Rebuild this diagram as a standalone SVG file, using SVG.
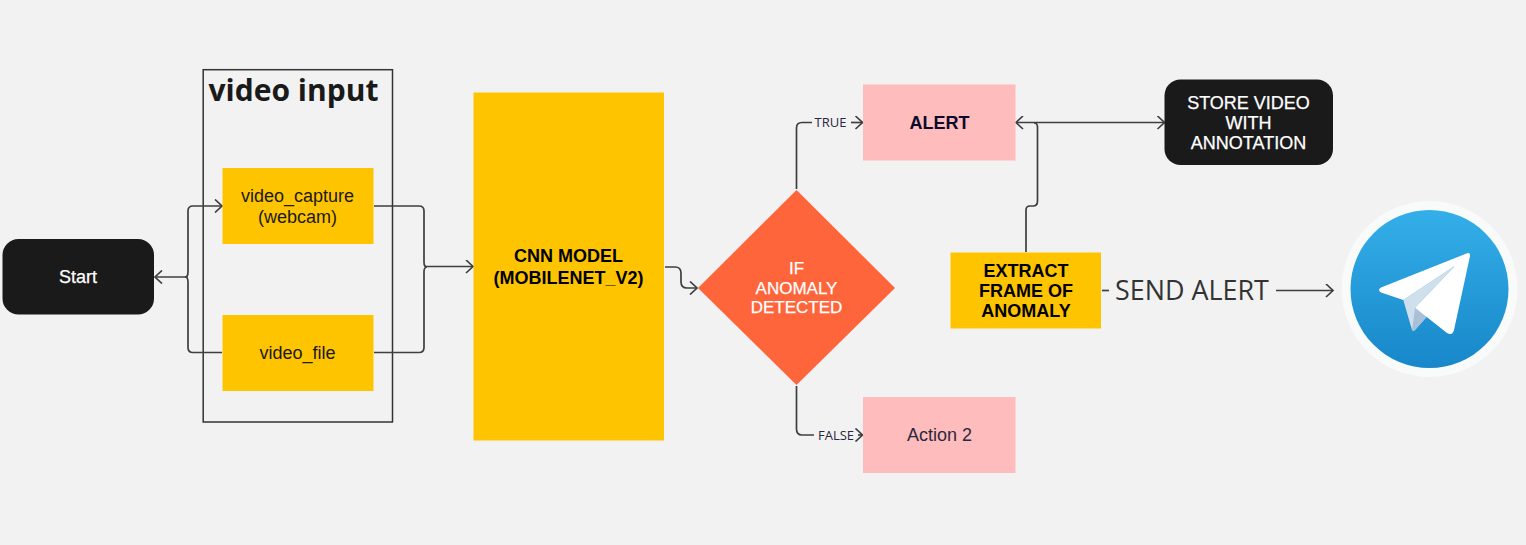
<svg xmlns="http://www.w3.org/2000/svg" width="1526" height="545" viewBox="0 0 1526 545">
<defs>
<style>
text{font-family:"Liberation Sans",Arial,sans-serif;text-anchor:middle}
.t{font-size:18px;fill:#1a1a1a}
.w{font-size:18px;fill:#fff;stroke:#fff;stroke-width:.25}
.d{font-size:17px}
.b{font-size:18px;font-weight:bold;fill:#000}
.o{font-family:"Open Sans",sans-serif}
.y{fill:#ffc400}
.p{fill:#ffbcbc}
.k{fill:#1a1a1a}
.c{fill:none;stroke:#3f3f3f;stroke-width:1.7}
.s{font-family:"Open Sans",sans-serif;font-size:13px;fill:#2b2740}
</style>
<marker id="a" markerUnits="userSpaceOnUse" markerWidth="12" markerHeight="14" refX="9" refY="7" orient="auto-start-reverse"><path d="M2 .5L9 7L2 13.500" fill="none" stroke="#3f3f3f" stroke-width="1.700"/></marker>
<linearGradient id="tg" x1="0" y1="0" x2="0" y2="1"><stop offset="0" stop-color="#34afe9"/><stop offset="1" stop-color="#1787c9"/></linearGradient>
</defs>
<rect width="1526" height="545" fill="#f2f2f2"/>
<g id="video-input">
<rect x="203.200" y="69.700" width="189.300" height="352.300" fill="none" stroke="#333" stroke-width="1.500"/>
<text class="o" x="293.500" y="101" font-size="30" font-weight="bold" fill="#1a1a1a">video input</text>
</g>
<g id="connectors">
<path class="c" d="M188 277H155" marker-end="url(#a)"/>
<path class="c" d="M222 352.500H193Q188 352.500 188 347.500V282Q188 277 185 277Q188 277 188 272V211Q188 206 193 206H222" marker-end="url(#a)"/>
<path class="c" d="M374 206H419Q424 206 424 211V262Q424 267 427 267Q424 267 424 272V347.500Q424 352.500 419 352.500H374"/>
<path class="c" d="M425 266.500H473" marker-end="url(#a)"/>
<path class="c" d="M665 267H675Q681 267 681 273V282Q681 288 687 288H697" marker-end="url(#a)"/>
<path class="c" d="M796.500 189V128Q796.500 122.500 802 122.500H812"/>
<path class="c" d="M851 122.500H862.500" marker-end="url(#a)"/>
<path class="c" d="M796.500 386V429Q796.500 435 802 435H814"/>
<path class="c" d="M858 435H862.500" marker-end="url(#a)"/>
<path class="c" d="M1164.500 122.500H1016" marker-start="url(#a)" marker-end="url(#a)"/>
<path class="c" d="M1026 252V210Q1026 206 1030 206H1033Q1037.500 206 1037.500 201V127Q1037.500 123 1034 123"/>
<path class="c" d="M1102 290.500H1109"/>
<path class="c" d="M1276 290.500H1333" marker-end="url(#a)"/>
</g>
<g id="start"><rect class="k" x="2.500" y="239" width="151.500" height="75.500" rx="16"/><text class="w" x="78" y="282.500">Start</text></g>
<g id="video-capture"><rect class="y" x="222.500" y="168" width="151" height="76"/><text class="t" x="297.500" y="202">video_capture</text><text class="t" x="297.500" y="223">(webcam)</text></g>
<g id="video-file"><rect class="y" x="222.500" y="315" width="151" height="76"/><text class="t" x="297.500" y="358.500">video_file</text></g>
<g id="cnn-model"><rect class="y" x="473.500" y="92.500" width="190.500" height="348"/><text class="b" x="568.500" y="262">CNN MODEL</text><text class="b" x="568.500" y="283.500">(MOBILENET_V2)</text></g>
<g id="decision"><polygon points="796.500,190 895,288 796.500,385 698,288" fill="#ff653b"/><text class="w d" x="796.500" y="274">IF</text><text class="w d" x="796.500" y="294">ANOMALY</text><text class="w d" x="796.500" y="313">DETECTED</text></g>
<text class="s" x="830.500" y="127">TRUE</text>
<text class="s" x="836" y="439.500">FALSE</text>
<g id="alert"><rect class="p" x="863" y="84.500" width="152.500" height="76"/><text x="939.500" y="128.500" font-size="18" font-weight="bold" fill="#0d0a2c">ALERT</text></g>
<g id="action-2"><rect class="p" x="863" y="397" width="152.500" height="76"/><text x="939.500" y="440.500" font-size="18" fill="#2b2740">Action 2</text></g>
<g id="store-video"><rect class="k" x="1164.500" y="79.500" width="168.500" height="85.500" rx="16"/><text class="w" x="1248.500" y="109">STORE VIDEO</text><text class="w" x="1248.500" y="129">WITH</text><text class="w" x="1248.500" y="149">ANNOTATION</text></g>
<g id="extract-frame"><rect class="y" x="950.500" y="252.500" width="150.500" height="76"/><text class="b" x="1026" y="276.500">EXTRACT</text><text class="b" x="1026" y="296.500">FRAME OF</text><text class="b" x="1026" y="316.500">ANOMALY</text></g>
<text class="o" x="1192" y="300" font-size="26.900" fill="#333">SEND ALERT</text>
<g id="telegram">
<circle cx="1429.500" cy="289" r="88" fill="#f9fafa"/>
<circle cx="1429.500" cy="289" r="79" fill="url(#tg)"/>
<path d="M1403.300 300L1412 330Q1413 331.500 1415 330L1426.700 316.700L1415 307.700L1455 265.700Z" fill="#d0dfec"/>
<path d="M1415 307.700L1412 330Q1413 331.500 1415 330L1426.700 316.700Z" fill="#a9c0d8"/>
<path d="M1466.500 253.500Q1470.500 252 1470 256L1454 330Q1452.500 336 1447 333L1415 307.700L1455 265.700L1403.300 300L1381 292.500Q1377 290 1381 287.500Z" fill="#fff"/>
</g>
</svg>
